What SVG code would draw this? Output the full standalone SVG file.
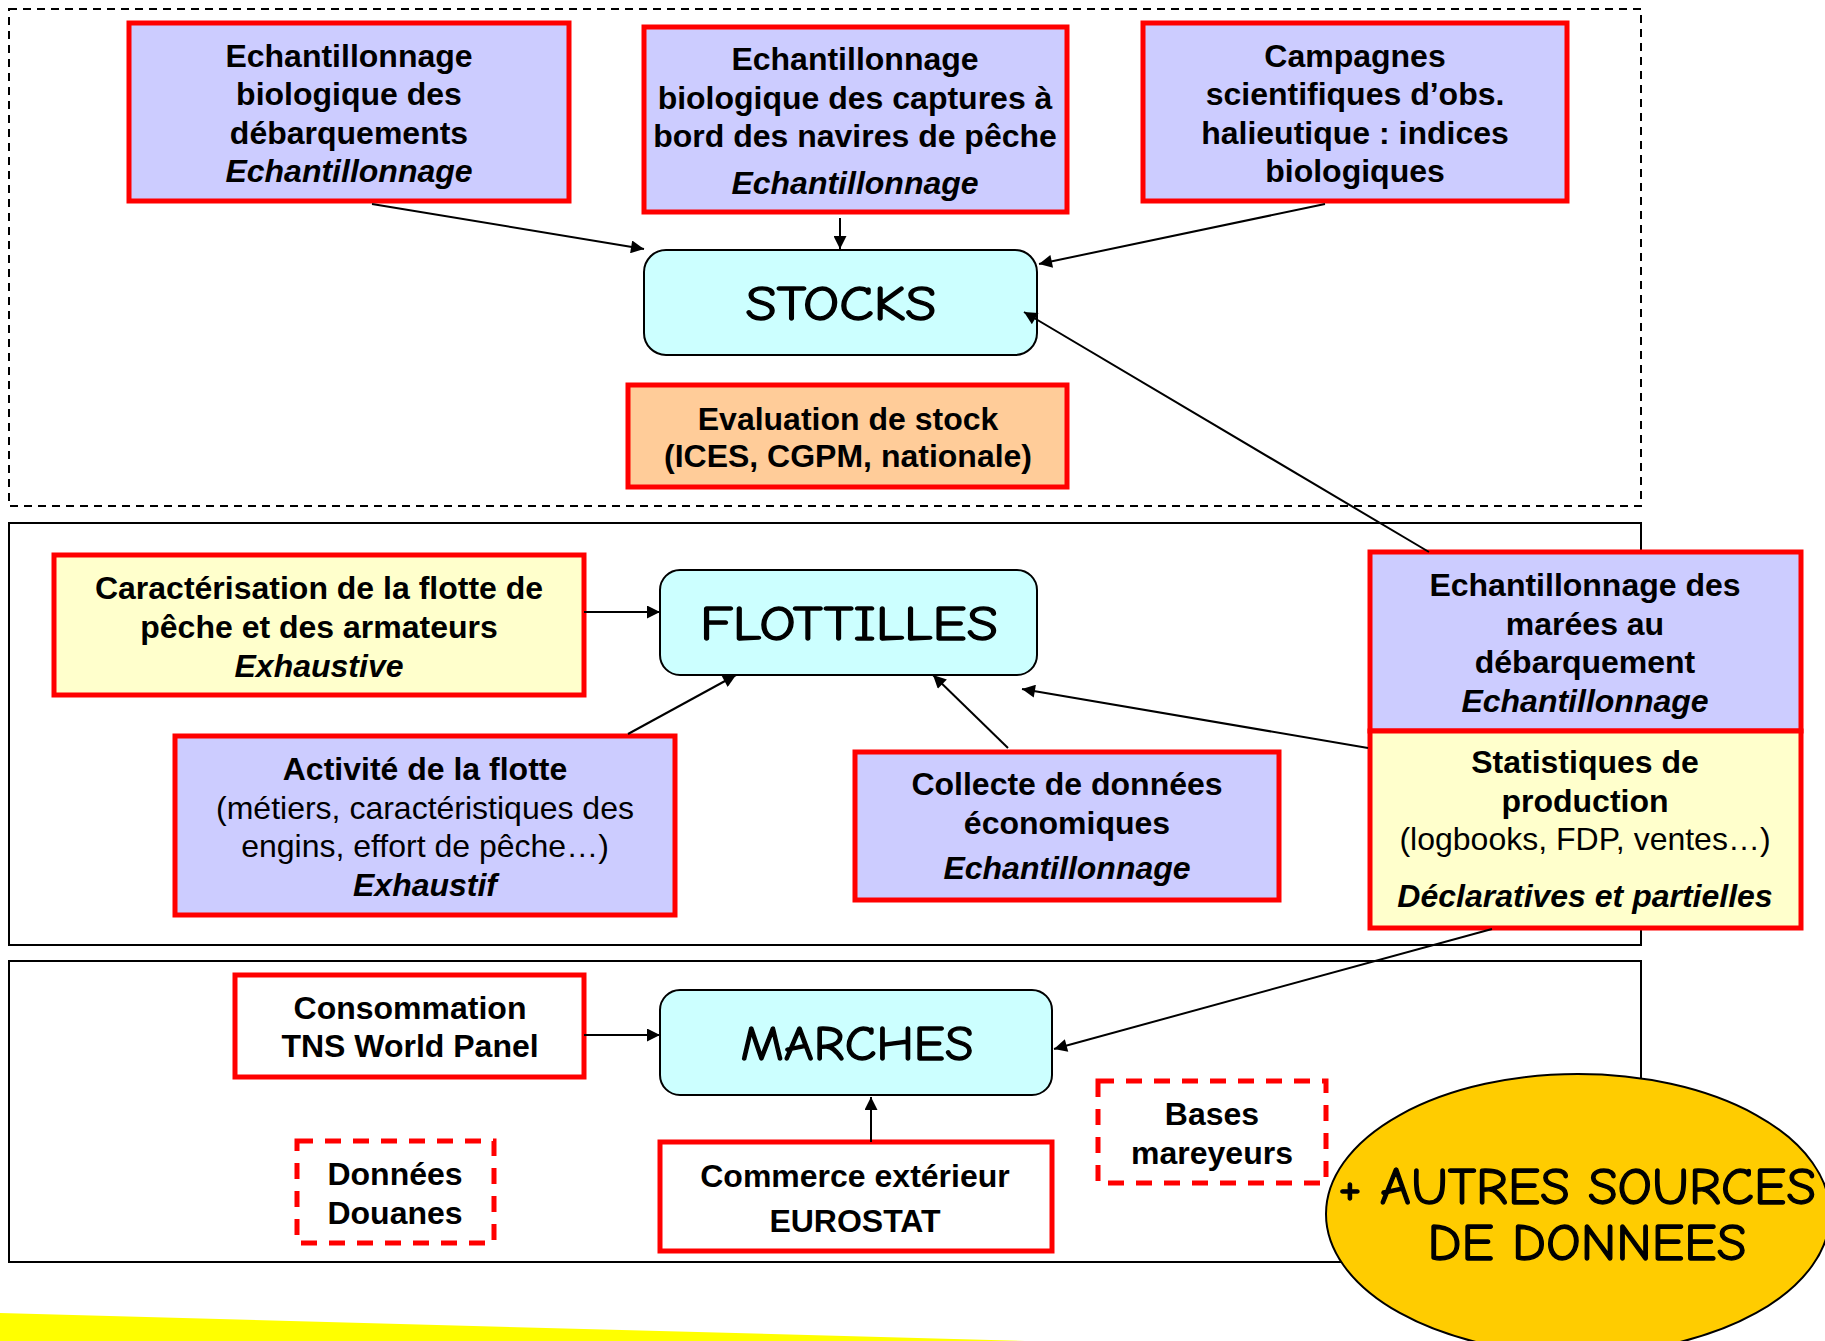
<svg xmlns="http://www.w3.org/2000/svg" width="1825" height="1341" viewBox="0 0 1825 1341">
<defs>
<style>
.t{font-family:"Liberation Sans",Arial,sans-serif;font-size:32px;font-weight:bold;fill:#000;text-anchor:middle}
.n{font-weight:normal}
.i{font-style:italic}
.c{font-family:"Comic Sans MS","Comic Neue","DejaVu Sans",sans-serif;fill:#000;stroke:#000;stroke-width:1.3;text-anchor:middle}
.box{stroke:#ff0000;stroke-width:5}
.lav{fill:#ccccff}
.yel{fill:#ffffcc}
.org{fill:#ffcc99}
.wht{fill:#ffffff}
.cy{fill:#ccffff;stroke:#000;stroke-width:2}
.dash{fill:#ffffff;stroke:#ff0000;stroke-width:5;stroke-dasharray:16 12}
.grp{fill:none;stroke:#000;stroke-width:2}
.edge{stroke:#000;stroke-width:2;fill:none;marker-end:url(#ah)}
</style>
<marker id="ah" viewBox="0 0 10 10" refX="10" refY="5" markerWidth="16" markerHeight="13" markerUnits="userSpaceOnUse" orient="auto">
<path d="M0,0 L10,5 L0,10 z" fill="#000"/>
</marker>
</defs>
<rect width="1825" height="1341" fill="#ffffff"/>
<polygon points="0,1313 1025,1341 0,1341" fill="#ffff00"/>
<g id="groups">
<rect x="9" y="9" width="1632" height="497" class="grp" stroke-dasharray="8 6" stroke-width="1.5"/>
<rect x="9" y="523" width="1632" height="422" class="grp"/>
<rect x="9" y="961" width="1632" height="301" class="grp"/>
</g>
<g id="n-echbio">
<rect x="129" y="23" width="440" height="178" class="box lav"/>
<text class="t" x="349" y="67">Echantillonnage</text>
<text class="t" x="349" y="105">biologique des</text>
<text class="t" x="349" y="144">débarquements</text>
<text class="t i" x="349" y="182">Echantillonnage</text>
</g>
<g id="n-echbord">
<rect x="644" y="27" width="423" height="185" class="box lav"/>
<text class="t" x="855" y="70">Echantillonnage</text>
<text class="t" x="855" y="109">biologique des captures à</text>
<text class="t" x="855" y="147">bord des navires de pêche</text>
<text class="t i" x="855" y="194">Echantillonnage</text>
</g>
<g id="n-campagnes">
<rect x="1143" y="23" width="424" height="178" class="box lav"/>
<text class="t" x="1355" y="67">Campagnes</text>
<text class="t" x="1355" y="105">scientifiques d’obs.</text>
<text class="t" x="1355" y="144">halieutique : indices</text>
<text class="t" x="1355" y="182">biologiques</text>
</g>
<g id="n-stocks">
<rect x="644" y="250" width="393" height="105" rx="22" class="cy"/>
<text class="c" x="841" y="320" font-size="48" textLength="191" lengthAdjust="spacingAndGlyphs">STOCKS</text>
</g>
<g id="n-evaluation">
<rect x="628" y="385" width="439" height="102" class="box org"/>
<text class="t" x="848" y="430">Evaluation de stock</text>
<text class="t" x="848" y="467">(ICES, CGPM, nationale)</text>
</g>
<g id="n-caract">
<rect x="54" y="555" width="530" height="140" class="box yel"/>
<text class="t" x="319" y="599">Caractérisation de la flotte de</text>
<text class="t" x="319" y="638">pêche et des armateurs</text>
<text class="t i" x="319" y="677">Exhaustive</text>
</g>
<g id="n-flottilles">
<rect x="660" y="570" width="377" height="105" rx="20" class="cy"/>
<text class="c" x="849" y="640" font-size="48" textLength="298" lengthAdjust="spacingAndGlyphs">FLOTTILLES</text>
</g>
<g id="n-activite">
<rect x="175" y="736" width="500" height="179" class="box lav"/>
<text class="t" x="425" y="780">Activité de la flotte</text>
<text class="t n" x="425" y="819">(métiers, caractéristiques des</text>
<text class="t n" x="425" y="857">engins, effort de pêche…)</text>
<text class="t i" x="425" y="896">Exhaustif</text>
</g>
<g id="n-collecte">
<rect x="855" y="752" width="424" height="148" class="box lav"/>
<text class="t" x="1067" y="795">Collecte de données</text>
<text class="t" x="1067" y="834">économiques</text>
<text class="t i" x="1067" y="879">Echantillonnage</text>
</g>
<g id="n-marees">
<rect x="1370" y="552" width="431" height="179" class="box lav"/>
<text class="t" x="1585" y="596">Echantillonnage des</text>
<text class="t" x="1585" y="635">marées au</text>
<text class="t" x="1585" y="673">débarquement</text>
<text class="t i" x="1585" y="712">Echantillonnage</text>
</g>
<g id="n-statistiques">
<rect x="1370" y="731" width="431" height="197" class="box yel"/>
<text class="t" x="1585" y="773">Statistiques de</text>
<text class="t" x="1585" y="812">production</text>
<text class="t n" x="1585" y="850">(logbooks, FDP, ventes…)</text>
<text class="t i" x="1585" y="907">Déclaratives et partielles</text>
</g>
<g id="n-consommation">
<rect x="235" y="975" width="349" height="102" class="box wht"/>
<text class="t" x="410" y="1019">Consommation</text>
<text class="t" x="410" y="1057">TNS World Panel</text>
</g>
<g id="n-marches">
<rect x="660" y="990" width="392" height="105" rx="20" class="cy"/>
<text class="c" x="857" y="1060" font-size="48" textLength="233" lengthAdjust="spacingAndGlyphs">MARCHES</text>
</g>
<g id="n-douanes">
<rect x="297" y="1141" width="197" height="102" class="dash"/>
<text class="t" x="395" y="1185">Données</text>
<text class="t" x="395" y="1224">Douanes</text>
</g>
<g id="n-commerce">
<rect x="660" y="1142" width="392" height="109" class="box wht"/>
<text class="t" x="855" y="1187">Commerce extérieur</text>
<text class="t" x="855" y="1232">EUROSTAT</text>
</g>
<g id="n-bases">
<rect x="1098" y="1081" width="228" height="102" class="dash"/>
<text class="t" x="1212" y="1125">Bases</text>
<text class="t" x="1212" y="1164">mareyeurs</text>
</g>
<g id="n-autres">
<ellipse cx="1578" cy="1214" rx="252" ry="140" fill="#ffcc00" stroke="#000" stroke-width="2"/>
<text class="c" x="1577" y="1204" font-size="52" textLength="478" lengthAdjust="spacingAndGlyphs">+ AUTRES SOURCES</text>
<text class="c" x="1587" y="1260" font-size="52" textLength="319" lengthAdjust="spacingAndGlyphs">DE DONNEES</text>
</g>
<g id="connectors">
<line x1="372" y1="204" x2="644" y2="249" class="edge"/>
<line x1="840" y1="218" x2="840" y2="249" class="edge"/>
<line x1="1325" y1="204" x2="1039" y2="264" class="edge"/>
<line x1="1429" y1="552" x2="1024" y2="312" class="edge"/>
<line x1="584" y1="612" x2="660" y2="612" class="edge"/>
<line x1="628" y1="734" x2="736" y2="675" class="edge"/>
<line x1="1008" y1="748" x2="933" y2="675" class="edge"/>
<line x1="1368" y1="748" x2="1022" y2="689" class="edge"/>
<line x1="1492" y1="929" x2="1054" y2="1049" class="edge"/>
<line x1="584" y1="1035" x2="660" y2="1035" class="edge"/>
<line x1="871" y1="1142" x2="871" y2="1097" class="edge"/>
</g>
</svg>
